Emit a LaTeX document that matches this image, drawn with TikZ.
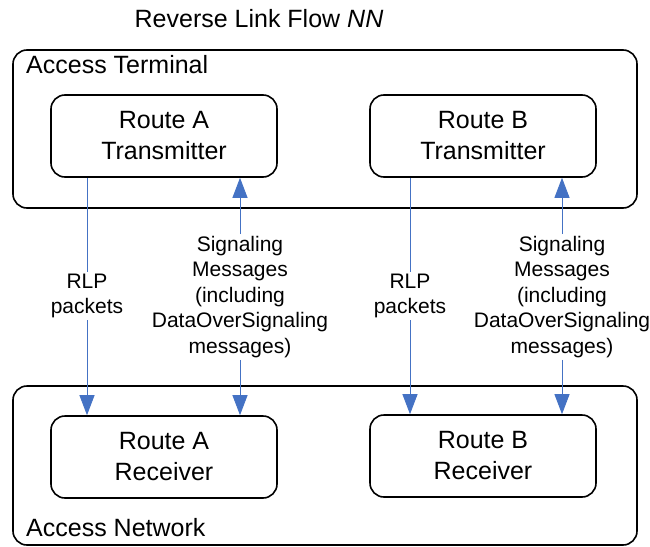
\documentclass[tikz,border=0pt]{standalone}
\usepackage{fontspec}
\setmainfont{Liberation Sans}
\usetikzlibrary{arrows.meta}
\definecolor{flowblue}{RGB}{68,114,196}
\begin{document}
\begin{tikzpicture}[x=1pt,y=-1pt,
  outerbox/.style={draw=black,line width=1.6pt,rounded corners=14pt},
  unitbox/.style={draw=black,line width=1.6pt,rounded corners=14pt,minimum width=226pt,minimum height=82pt,align=center,font=\fontsize{25}{31}\selectfont,inner sep=0pt},
  boxtitle/.style={anchor=west,font=\fontsize{25}{30}\selectfont,inner sep=0pt},
  lbl/.style={align=center,font=\fontsize{21}{25.5}\selectfont,inner sep=2pt},
  flowline/.style={draw=flowblue,line width=0.9pt},
  flowarrow/.style={flowline,-{Triangle[length=20pt,width=15pt]}},
  flowboth/.style={flowline,{Triangle[length=20pt,width=15pt]}-{Triangle[length=20pt,width=15pt]}}
]
\useasboundingbox (0,0) rectangle (650,546);
% title
\node[font=\fontsize{25}{30}\selectfont,inner sep=0pt] (title) at (259,19) {Reverse Link Flow \textit{NN}};
% outer boxes
\draw[outerbox] (13,50) rectangle (637,208);
\node[boxtitle] (at) at (26,65) {Access Terminal};
\draw[outerbox] (13,386) rectangle (637,545);
\node[boxtitle] (an) at (26,528) {Access Network};
% units
\node[unitbox] (txA) at (164,136) {Route A\\Transmitter};
\node[unitbox] (txB) at (483,136) {Route B\\Transmitter};
\node[unitbox] (rxA) at (164,457) {Route A\\Receiver};
\node[unitbox] (rxB) at (483,456) {Route B\\Receiver};
% labels
\node[lbl] (rlpA) at (87,296) {RLP\\packets};
\node[lbl] (sigA) at (240,297) {Signaling\\Messages\\(including\\DataOverSignaling\\messages)};
\node[lbl] (rlpB) at (410,296) {RLP\\packets};
\node[lbl] (sigB) at (562,297) {Signaling\\Messages\\(including\\DataOverSignaling\\messages)};
% flows
\draw[flowline] (txA.south -| rlpA) -- (rlpA.north);
\draw[flowarrow] (rlpA.south) -- (rxA.north -| rlpA);
\draw[flowline] (txB.south -| rlpB) -- (rlpB.north);
\draw[flowarrow] (rlpB.south) -- (rxB.north -| rlpB);
\draw[flowarrow] (sigA.north) -- (txA.south -| sigA);
\draw[flowarrow] (sigA.south) -- (rxA.north -| sigA);
\draw[flowarrow] (sigB.north) -- (txB.south -| sigB);
\draw[flowarrow] (sigB.south) -- (rxB.north -| sigB);
\end{tikzpicture}
\end{document}
